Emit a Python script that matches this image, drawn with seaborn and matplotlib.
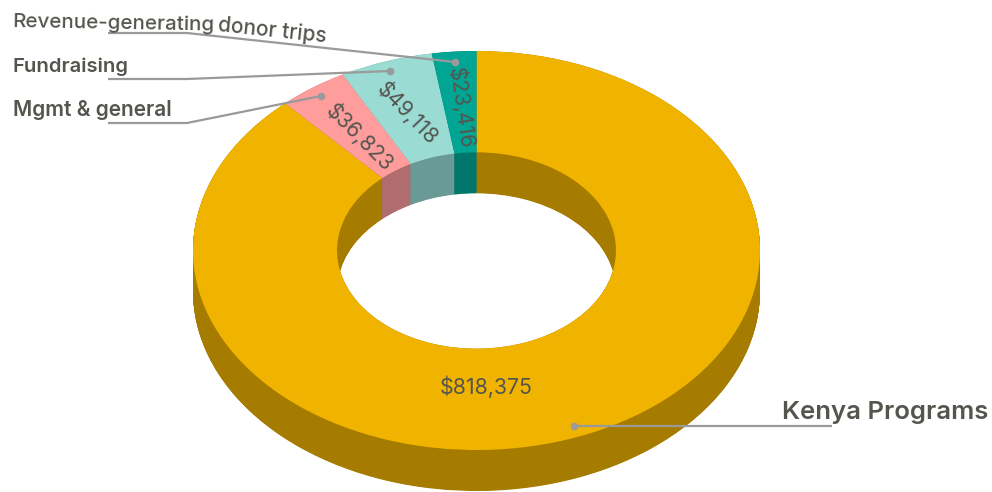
import numpy as np
import matplotlib
matplotlib.use('Agg')
import matplotlib.pyplot as plt
import seaborn as sns

categories = ['Kenya Programs', 'Mgmt & general', 'Fundraising', 'Revenue-generating donor trips']
values = [818375, 36823, 49118, 23416]
value_labels = ['$818,375', '$36,823', '$49,118', '$23,416']
top_colors = ['#F0B400', '#FF9C9C', '#9ADBD3', '#00A693']
side_colors = ['#A67C00', '#B06C6E', '#6A9A95', '#00776A']

# picture geometry in pixels
W, H = 992, 492
CX, CY = 476.5, 250.5
RX, RY = 283.5, 199.5
DEPTH = 41 / RY
HOLE = 0.492
TEXT = '#55554F'
LINE = '#9A9A9A'


def px(x, y):
    return (x - CX) / RX, (CY - y) / RY


sns.set_theme(style='white')
plt.rcParams['font.family'] = ['Inter', 'DejaVu Sans']

fig = plt.figure(figsize=(W / 100, H / 100), dpi=100)
ax = fig.add_axes([0, 0, 1, 1])
pie_args = dict(startangle=90, counterclock=False)
ring = dict(width=1 - HOLE, linewidth=0)

# extruded side, deepest ring first so the inner wall keeps vertical seams
for dy in np.linspace(DEPTH, 0, 84):
    ax.pie(values, colors=side_colors, center=(0, -dy), wedgeprops=ring, **pie_args)

# top face
ax.pie(values, colors=top_colors, wedgeprops=ring, **pie_args)

# value labels
label_pos = [(486, 387, 0), (360, 137, -45), (408, 113, -46), (462, 108, -82)]
for text, (x, y, rot) in zip(value_labels, label_pos):
    ax.text(*px(x, y), text, ha='center', va='center', rotation=rot,
            rotation_mode='anchor', fontsize=15.4, color=TEXT)

# leader lines
leaders = [
    [(574, 426), (832, 426)],
    [(321, 96), (187, 123), (108, 123)],
    [(390, 71), (187, 79), (108, 79)],
    [(455, 62), (187, 33), (108, 33)],
]
for pts in leaders:
    xy = np.array([px(x, y) for x, y in pts])
    ax.plot(xy[:, 0], xy[:, 1], color=LINE, lw=1.6, solid_capstyle='butt')
    ax.plot(xy[0, 0], xy[0, 1], 'o', color=LINE, ms=4.5)

# category labels
ax.text(*px(782, 412), categories[0], ha='left', va='center', fontsize=18.5,
        color=TEXT, fontweight='semibold')
ax.text(*px(13, 110), categories[1], ha='left', va='center', fontsize=15,
        color=TEXT, fontweight='semibold')
ax.text(*px(13, 67), categories[2], ha='left', va='center', fontsize=14.6,
        color=TEXT, fontweight='semibold')
first, second = categories[3].split(' donor ')
ax.text(*px(13, 22), first, ha='left', va='center', fontsize=14.8, rotation=-1,
        rotation_mode='anchor', color=TEXT, fontweight='medium')
ax.text(*px(218, 25), 'donor ' + second, ha='left', va='center', fontsize=15, rotation=-6,
        rotation_mode='anchor', color=TEXT, fontweight='medium')

ax.set_aspect('auto')
ax.set_xlim(-CX / RX, (W - CX) / RX)
ax.set_ylim((CY - H) / RY, CY / RY)
ax.axis('off')

fig.savefig('out.png', dpi=100)
